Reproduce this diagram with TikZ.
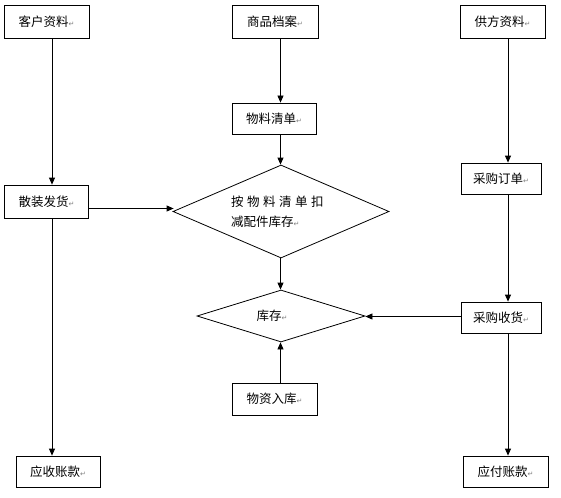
\documentclass[tikz,border=0pt]{standalone}
\usepackage{fontspec}
\setmainfont{Liberation Serif}
\newfontfamily\cjk{Noto Sans CJK SC}
\newfontfamily\symfont{DejaVu Sans}
\usetikzlibrary{shapes.geometric,arrows.meta}
\newcommand{\pmark}{{\symfont\fontsize{7}{7}\selectfont\color{gray}↵}}
\begin{document}
\begin{tikzpicture}[x=1pt,y=-1pt,
  box/.style={draw,line width=0.8pt,inner sep=0pt,minimum width=85pt,minimum height=32pt,font=\cjk\fontsize{12.5}{15}\selectfont},
  dia/.style={draw,diamond,line width=0.8pt,inner sep=0pt},
  lbl/.style={inner sep=0pt,font=\cjk\fontsize{12.5}{20}\selectfont},
  arr/.style={line width=0.8pt,-{Triangle[length=7pt,width=6pt]}}]
\useasboundingbox (0,0) rectangle (561,497);
\fill[white] (0,0) rectangle (561,497);
% nodes
\node[box,minimum height=33pt] (kehu) at (46.5,21.5) {客户资料\pmark};
\node[box,minimum width=86pt,minimum height=33pt] (shangpin) at (275,21.5) {商品档案\pmark};
\node[box,minimum height=33pt] (gongfang) at (502.5,21.5) {供方资料\pmark};
\node[box,minimum width=84pt,minimum height=31pt] (wuliao) at (274,118.5) {物料清单\pmark};
\node[box,minimum width=84pt,minimum height=33pt] (fahuo) at (46.5,201.5) {散装发货\pmark};
\node[dia,minimum width=216pt,minimum height=93pt] (d1) at (281,211.5) {};
\node[lbl,align=left,anchor=west] (d1t) at (231,212) {按\hspace{3.5pt}物\hspace{3.5pt}料\hspace{3.5pt}清\hspace{3.5pt}单\hspace{3.5pt}扣\\减配件库存\pmark};
\node[dia,minimum width=168pt,minimum height=52pt] (d2) at (281,316) {};
\node[lbl] (d2t) at (272,316) {库存\pmark};
\node[box,minimum height=32pt] (ruku) at (274.5,399) {物资入库\pmark};
\node[box,minimum width=80pt,minimum height=31pt] (dingdan) at (501,178.5) {采购订单\pmark};
\node[box,minimum width=80pt,minimum height=31pt] (shouhuo) at (501,317.5) {采购收货\pmark};
\node[box,minimum width=84pt,minimum height=31pt] (yingshou) at (58,471.5) {应收账款\pmark};
\node[box,minimum width=85pt,minimum height=31pt] (yingfu) at (505.5,471.5) {应付账款\pmark};
% helper coordinates
\coordinate (xL) at (52,0);
\coordinate (xC) at (280.5,0);
\coordinate (xR) at (508,0);
\coordinate (yA) at (0,208.5);
\coordinate (yB) at (0,316.5);
% connectors
\draw[arr] (kehu.south -| xL) -- (fahuo.north -| xL);
\draw[arr] (fahuo.south -| xL) -- (yingshou.north -| xL);
\draw[arr] (fahuo.east |- yA) -- ([xshift=1pt]d1.west |- yA);
\draw[arr] (shangpin.south -| xC) -- (wuliao.north -| xC);
\draw[arr] (wuliao.south -| xC) -- (d1.north -| xC);
\draw[arr] (d1.south -| xC) -- (d2.north -| xC);
\draw[arr] (ruku.north -| xC) -- (d2.south -| xC);
\draw[arr] (gongfang.south -| xR) -- (dingdan.north -| xR);
\draw[arr] (dingdan.south -| xR) -- (shouhuo.north -| xR);
\draw[arr] (shouhuo.west |- yB) -- (d2.east |- yB);
\draw[arr] (shouhuo.south -| xR) -- (yingfu.north -| xR);
\end{tikzpicture}
\end{document}
